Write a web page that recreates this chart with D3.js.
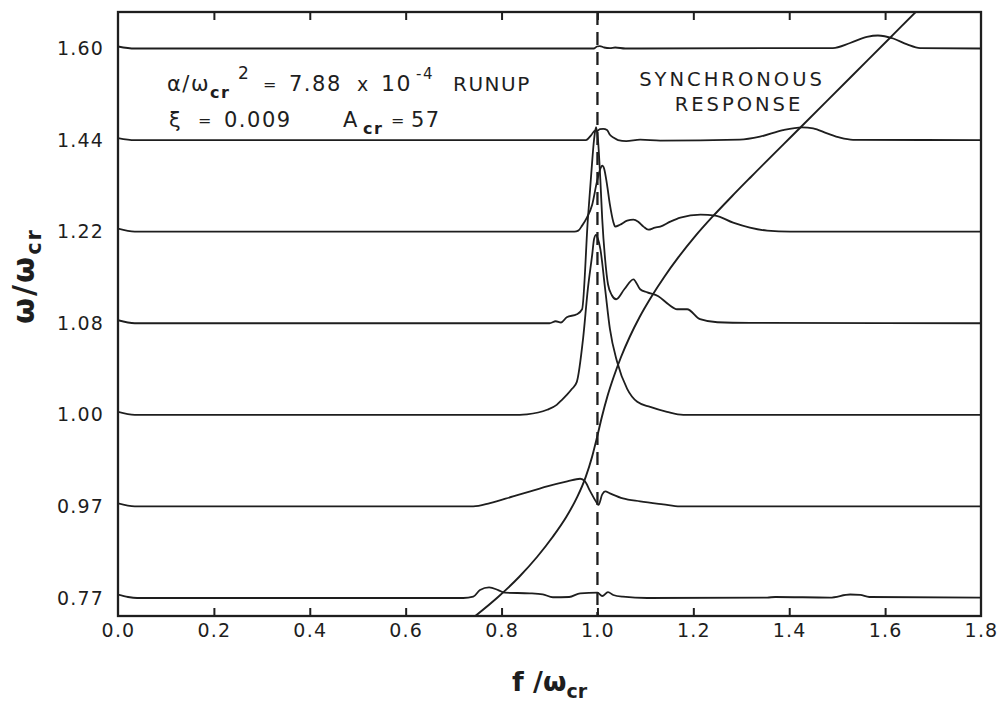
<!DOCTYPE html>
<html><head><meta charset="utf-8">
<script src="https://cdn.jsdelivr.net/npm/d3@7"></script>
<style>
body{margin:0;background:#fff}
text{font-family:"DejaVu Sans",sans-serif;fill:#1e1e1e}
</style>
</head><body>
<svg id="chart" width="1002" height="707"></svg>
<script>
// ---- data ----
const rowLabels = ["0.77","0.97","1.00","1.08","1.22","1.44","1.60"];
const xTicks = [0,0.2,0.4,0.6,0.8,1.0,1.2,1.4,1.6,1.8];

const f077 = [0,0.021,0.040,0.720,0.741,0.755,0.774,0.793,0.807,0.859,0.886,0.907,0.941,0.964,1.000,1.010,1.022,1.033,1.053,1.104,1.354,1.371,1.485,1.527,1.548,1.567,1.800];
const a077 = [0.038,0.011,0,0,0.014,0.087,0.115,0.087,0.058,0.051,0.040,0.008,0.011,0.051,0.058,0.022,0.065,0.033,0.014,0,0.005,0.011,0.005,0.038,0.033,0.011,0.005];

const f097 = [0,0.035,0.741,0.776,0.824,0.860,0.895,0.937,0.964,0.974,0.985,0.999,1.002,1.010,1.016,1.026,1.053,1.089,1.137,1.172,1.800];
const a097 = [0.033,0,0,0.036,0.109,0.164,0.218,0.273,0.302,0.273,0.164,0.036,0.016,0.131,0.164,0.142,0.087,0.055,0.022,0,0];

const f100 = [0,0.035,0.838,0.853,0.895,0.915,0.926,0.936,0.947,0.957,0.970,0.980,0.989,0.993,0.997,1.001,1.006,1.016,1.026,1.041,1.062,1.083,1.110,1.145,1.179,1.800];
const a100 = [0.033,0,0,0.005,0.055,0.109,0.164,0.218,0.284,0.360,0.830,1.376,1.747,1.921,1.965,1.921,1.812,1.376,0.939,0.579,0.284,0.142,0.087,0.033,0,0];

const f108 = [0,0.035,0.900,0.913,0.924,0.936,0.957,0.968,0.980,0.987,0.993,0.997,1.001,1.006,1.010,1.016,1.022,1.030,1.039,1.056,1.075,1.089,1.104,1.127,1.148,1.166,1.187,1.214,1.250,1.318,1.800];
const a108 = [0.033,0,0,0.022,0.008,0.066,0.098,0.153,1.135,1.627,2.009,2.140,2.009,1.572,1.135,0.699,0.426,0.306,0.262,0.371,0.480,0.371,0.338,0.295,0.207,0.153,0.153,0.044,0.011,0.005,0];

const f122 = [0,0.035,0.952,0.960,0.968,0.978,0.989,0.999,1.007,1.010,1.014,1.020,1.026,1.033,1.037,1.047,1.062,1.075,1.085,1.096,1.106,1.120,1.131,1.152,1.173,1.215,1.246,1.283,1.318,1.354,1.402,1.800];
const a122 = [0.033,0,0,0.011,0.066,0.153,0.295,0.546,0.699,0.721,0.688,0.513,0.295,0.109,0.055,0.076,0.120,0.131,0.109,0.055,0.022,0.044,0.055,0.109,0.153,0.186,0.175,0.098,0.044,0.011,0,0];

const f144 = [0,0.035,0.976,0.987,0.995,0.999,1.005,1.012,1.020,1.026,1.035,1.043,1.060,1.089,1.131,1.297,1.339,1.387,1.427,1.450,1.479,1.506,1.533,1.800];
const a144 = [0.022,0,0,0.055,0.104,0.098,0.120,0.123,0.109,0.058,0.022,0,-0.011,0.005,-0.005,0.005,0.037,0.109,0.139,0.128,0.073,0.026,0.003,0];

const f160 = [0,0.035,0.993,0.999,1.005,1.014,1.026,1.037,1.058,1.491,1.527,1.562,1.585,1.617,1.646,1.673,1.800];
const a160 = [0.022,0,0,0.022,0.027,0.011,0.005,0.011,0,0.005,0.060,0.126,0.142,0.109,0.044,0.005,0];

// synchronous response locus (f, omega)
const syncF = [0.7426,0.7927,0.8365,0.8740,0.9065,0.9349,0.9579,0.9754,0.9887,0.9992,1.0092,1.0204,1.0338,1.0492,1.0672,1.0880,1.1122,1.1393,1.1694,1.2027,1.2395,1.2791,1.3200,1.4264,1.5307,1.6141,1.6683,1.6834];
const syncW = [0.7285,0.7722,0.8159,0.8595,0.9032,0.9469,0.9731,0.9796,0.9862,0.9927,0.9993,1.0156,1.0330,1.0505,1.0680,1.0896,1.1202,1.1508,1.1814,1.2120,1.2553,1.3033,1.3514,1.4646,1.5520,1.6218,1.6673,1.6795];

const traces = [
  {row:"0.77", f:f077, a:a077},
  {row:"0.97", f:f097, a:a097},
  {row:"1.00", f:f100, a:a100},
  {row:"1.08", f:f108, a:a108},
  {row:"1.22", f:f122, a:a122},
  {row:"1.44", f:f144, a:a144},
  {row:"1.60", f:f160, a:a160}
];

// ---- layout ----
const margin = {top:12, right:21, bottom:91, left:118};
const W = 1002 - margin.left - margin.right;
const H = 707 - margin.top - margin.bottom;
const ink = "#1e1e1e";

const svg = d3.select("#chart");
svg.append("rect").attr("width",1002).attr("height",707).attr("fill","#fff");
const g = svg.append("g").attr("transform",`translate(${margin.left},${margin.top})`);

const x = d3.scaleLinear().domain([0,1.8]).range([0,W]);
const yRow = d3.scalePoint().domain(rowLabels).range([H-18, 36.5]);
const amp = d3.scaleLinear().domain([0,1]).range([0, yRow.step()]);
const yW = d3.scaleLinear().domain(rowLabels.map(Number)).range(rowLabels.map(r=>yRow(r)));

g.append("clipPath").attr("id","clip").append("rect").attr("width",W).attr("height",H);

// traces
const plot = g.append("g").attr("clip-path","url(#clip)");
traces.forEach(t=>{
  const pts = t.f.map((f,i)=>({f, a:t.a[i]}));
  const line = d3.line().x(d=>x(d.f)).y(d=>yRow(t.row)-amp(d.a)).curve(d3.curveMonotoneX);
  plot.append("path").datum(pts).attr("d",line)
    .attr("fill","none").attr("stroke",ink).attr("stroke-width",1.8).attr("stroke-linejoin","round");
});

// synchronous curve
const syncPts = syncF.map((f,i)=>({f, w:syncW[i]}));
plot.append("path").datum(syncPts)
  .attr("d", d3.line().x(d=>x(d.f)).y(d=>yW(d.w)).curve(d3.curveMonotoneX))
  .attr("fill","none").attr("stroke",ink).attr("stroke-width",1.9);

// dashed critical line
plot.append("line").attr("x1",x(1.0)).attr("x2",x(1.0)).attr("y1",0).attr("y2",H)
  .attr("stroke",ink).attr("stroke-width",2.3).attr("stroke-dasharray","13,7");

// axes
const inner = xTicks.filter(v=>v>0 && v<1.8);
const xb = g.append("g").attr("transform",`translate(0,${H})`)
  .call(d3.axisBottom(x).tickValues(xTicks).tickSizeInner(0).tickSizeOuter(0).tickPadding(8).tickFormat(d3.format(".1f")));
xb.select(".domain").remove();
xb.selectAll("text").attr("font-size",19).attr("letter-spacing",1.2).attr("font-family","DejaVu Sans").attr("fill",ink);
g.append("g").attr("transform",`translate(0,${H})`)
  .call(d3.axisBottom(x).tickValues(inner).tickSizeInner(-8).tickSizeOuter(0).tickFormat(""))
  .call(s=>s.select(".domain").remove())
  .selectAll("line").attr("stroke",ink).attr("stroke-width",2);
g.append("g")
  .call(d3.axisTop(x).tickValues(inner).tickSizeInner(-8).tickSizeOuter(0).tickFormat(""))
  .call(s=>s.select(".domain").remove())
  .selectAll("line").attr("stroke",ink).attr("stroke-width",2);

const yl = g.append("g").call(d3.axisLeft(yRow).tickSize(0).tickPadding(14));
yl.select(".domain").remove();
yl.selectAll("text").attr("font-size",19).attr("letter-spacing",1.2).attr("font-family","DejaVu Sans").attr("fill",ink);

// frame
g.append("rect").attr("width",W).attr("height",H).attr("fill","none").attr("stroke",ink).attr("stroke-width",2.3);

// axis titles
const xt = svg.append("text").attr("x",margin.left+W/2).attr("y",691).attr("text-anchor","middle")
  .attr("font-size",27).attr("font-weight","bold");
xt.append("tspan").text("f /ω");
xt.append("tspan").attr("font-size",19).attr("dy",7).text("cr");

const yt = svg.append("text").attr("transform","translate(34,276) rotate(-90)").attr("text-anchor","middle")
  .attr("font-size",30).attr("font-weight","bold").attr("letter-spacing",2);
yt.append("tspan").text("ω/ω");
yt.append("tspan").attr("font-size",21).attr("dy",7).text("cr");

// annotations
function piece(sel, txt, xPos, y, size, bold){
  sel.append("text").attr("x",xPos).attr("y",y).attr("font-size",size)
    .attr("font-weight",bold?"bold":"normal").attr("letter-spacing",1.5).text(txt);
}
const ann = svg.append("g");
piece(ann,"α/ω",167,91,21);
piece(ann,"cr",210,98,16,true);
piece(ann,"2",238,79,17);
piece(ann,"=",263,90,16);
piece(ann,"7.88",289,91,21);
piece(ann,"x",357,91,19);
piece(ann,"10",381,91,22);
piece(ann,"-4",416,79,15);
piece(ann,"RUNUP",453,91,20);
piece(ann,"ξ",169,127,21);
piece(ann,"=",198,126,16);
piece(ann,"0.009",224,127,21);
piece(ann,"A",343,127,21);
piece(ann,"cr",363,134,16,true);
piece(ann,"=",391,126,16);
piece(ann,"57",411,127,21);

svg.append("text").attr("x",732).attr("y",86).attr("text-anchor","middle").attr("font-size",19.5)
  .attr("letter-spacing",3).text("SYNCHRONOUS");
svg.append("text").attr("x",739).attr("y",111).attr("text-anchor","middle").attr("font-size",19.5)
  .attr("letter-spacing",3).text("RESPONSE");
</script>
</body></html>
